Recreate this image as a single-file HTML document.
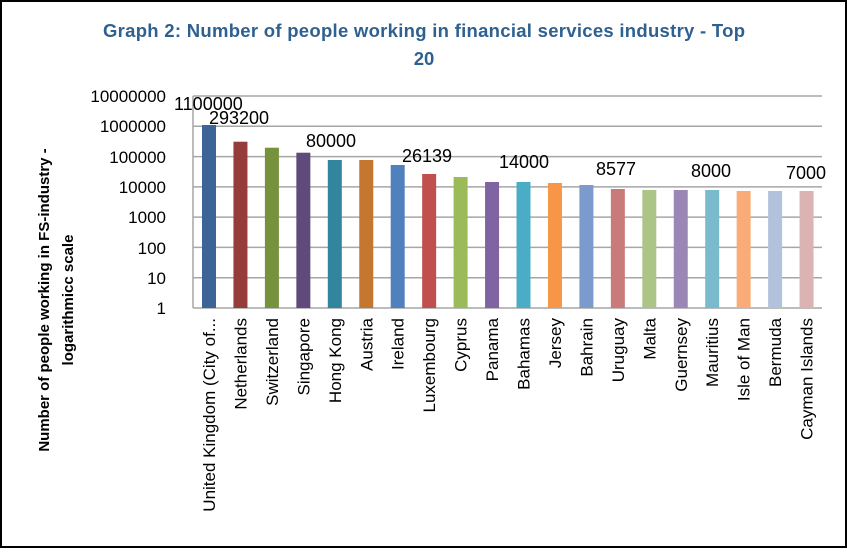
<!DOCTYPE html><html><head><style>body{margin:0;background:#fff}</style></head><body>
<svg width="847" height="548" xmlns="http://www.w3.org/2000/svg" font-family="Liberation Sans, sans-serif">
<rect x="1" y="1" width="845" height="546" fill="#fff" stroke="#000" stroke-width="2"/>
<text x="424" y="37" text-anchor="middle" font-size="18.5" font-weight="bold" fill="#2f6090" textLength="642">Graph 2: Number of people working in financial services industry - Top</text>
<text x="424" y="65" text-anchor="middle" font-size="18.5" font-weight="bold" fill="#2f6090">20</text>
<g transform="translate(49,300) rotate(-90)" font-size="15" font-weight="bold" text-anchor="middle"><text x="0" y="0">Number of people working in FS-industry -</text><text x="0" y="24">logarithmicc scale</text></g>
<g stroke="#a6a6a6" stroke-width="1.5">
<line x1="193" y1="96" x2="822" y2="96"/><line x1="193" y1="126.3" x2="822" y2="126.3"/><line x1="193" y1="156.6" x2="822" y2="156.6"/><line x1="193" y1="186.9" x2="822" y2="186.9"/><line x1="193" y1="217.1" x2="822" y2="217.1"/><line x1="193" y1="247.4" x2="822" y2="247.4"/><line x1="193" y1="277.7" x2="822" y2="277.7"/><line x1="193" y1="308" x2="822" y2="308"/><line x1="193" y1="96" x2="193" y2="308"/></g>
<g font-size="17" text-anchor="end"><text x="166" y="102">10000000</text><text x="166" y="132">1000000</text><text x="166" y="163">100000</text><text x="166" y="193">10000</text><text x="166" y="223">1000</text><text x="166" y="254">100</text><text x="166" y="284">10</text><text x="166" y="314">1</text></g>
<g id="bars"></g>
<g font-size="18"><text x="174" y="110">1100000</text><text x="209" y="124">293200</text><text x="306" y="147">80000</text><text x="402" y="162">26139</text><text x="499" y="168">14000</text><text x="596" y="175">8577</text><text x="691" y="177">8000</text><text x="786" y="179">7000</text></g>
<g id="lab" font-size="17" text-anchor="end"></g>
<script>
var names=["United Kingdom (City of...","Netherlands","Switzerland","Singapore","Hong Kong","Austria","Ireland","Luxembourg","Cyprus","Panama","Bahamas","Jersey","Bahrain","Uruguay","Malta","Guernsey","Mauritius","Isle of Man","Bermuda","Cayman Islands"];
var tops=[125,141.7,147.7,152.7,160,160,165,174,177,182,182,183,185,189,190,190,190,191,191,191];
var cols=["#3c6496","#963c3a","#76923c","#604a7b","#31859c","#c6772f","#4f81bd","#c0504d","#9bbb59","#8064a2","#4bacc6","#f79646","#7a9bcb","#c97b7a","#adc487","#9a87b5","#79bacd","#f9ab78","#b3c2dc","#dbb3b2"];
var b=document.getElementById("bars"),l=document.getElementById("lab"),ns="http://www.w3.org/2000/svg";
for(var i=0;i<20;i++){var c=209+i*31.45;var r=document.createElementNS(ns,"rect");r.setAttribute("x",c-7);r.setAttribute("y",tops[i]);r.setAttribute("width",14);r.setAttribute("height",308-tops[i]);r.setAttribute("fill",cols[i]);b.appendChild(r);
var t=document.createElementNS(ns,"text");t.setAttribute("transform","translate("+(c+6)+",318) rotate(-90)");t.textContent=names[i];l.appendChild(t);}
</script>
</svg></body></html>
